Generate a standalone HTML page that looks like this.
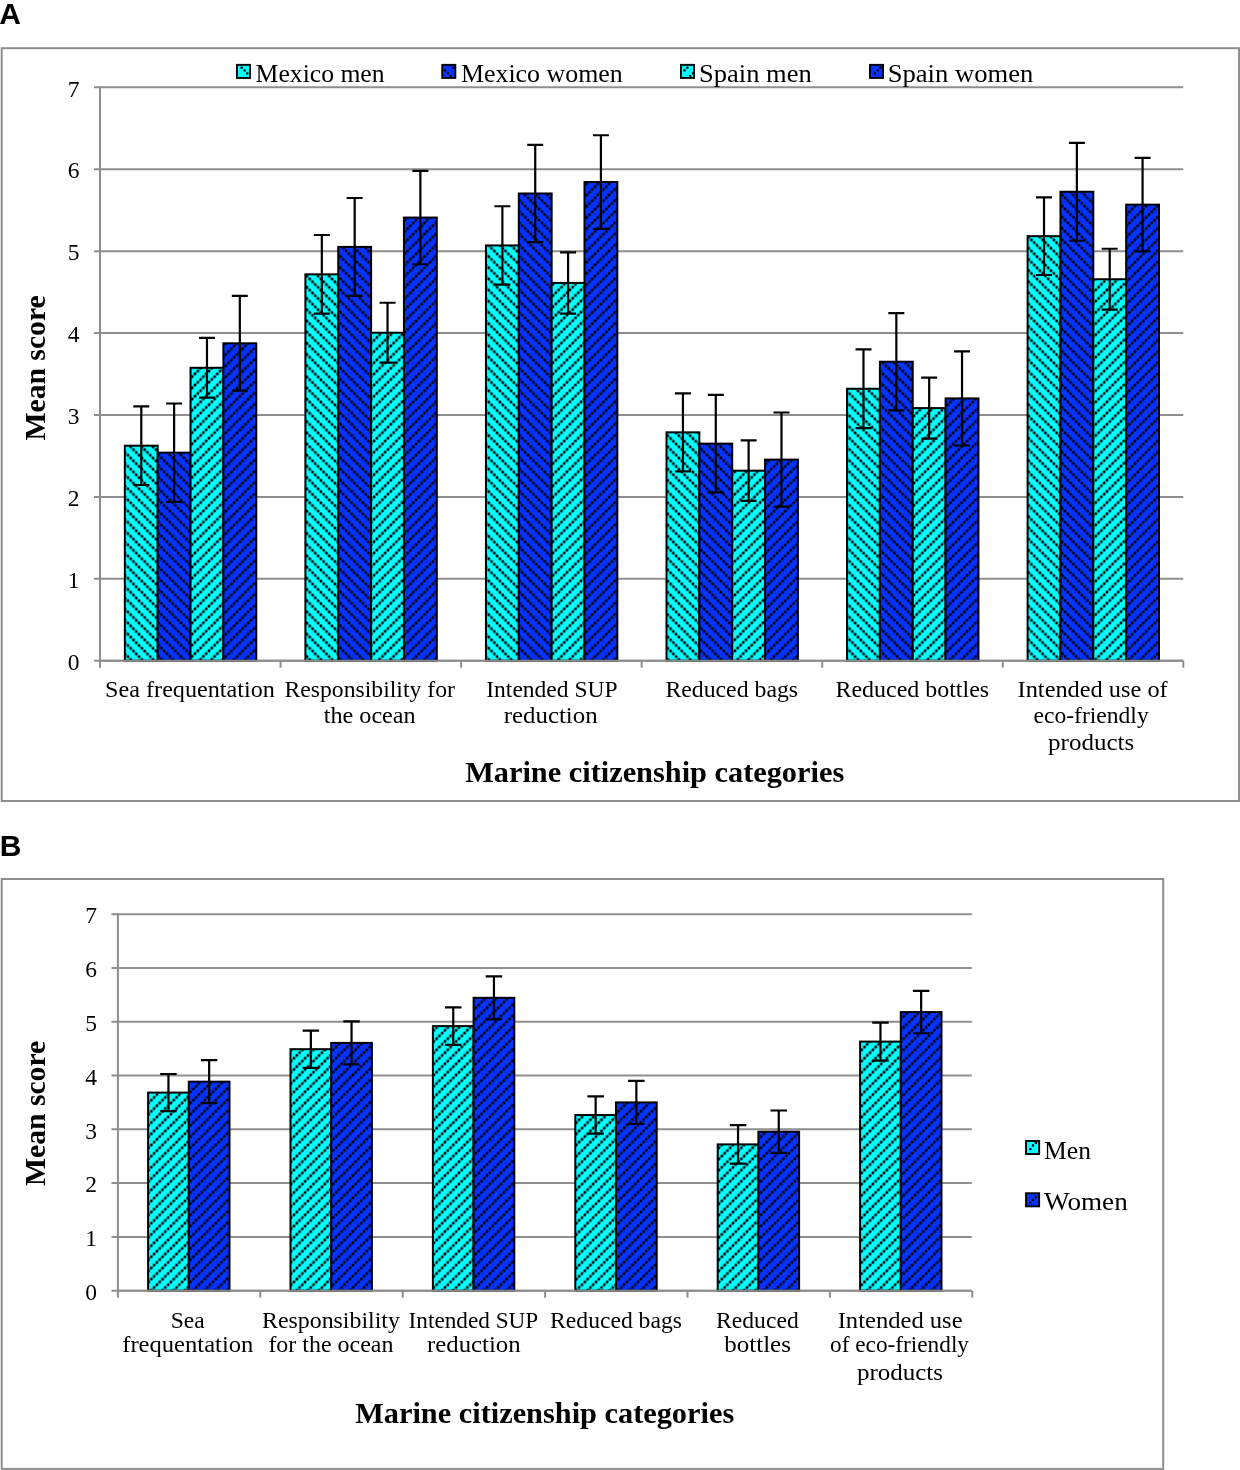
<!DOCTYPE html>
<html><head><meta charset="utf-8"><style>
html,body{margin:0;padding:0;background:#fff;width:1240px;height:1470px;overflow:hidden}
svg{display:block;will-change:transform}
text{font-family:"Liberation Serif",serif;fill:#000}
</style></head><body>
<svg width="1240" height="1470" viewBox="0 0 1240 1470">
<defs>
<pattern id="pMM" patternUnits="userSpaceOnUse" x="1.970" y="-6.330" width="11.190" height="11.190"><path d="M-2 -2L13.190 13.190M-2 9.190L2 13.190M9.190 -2L13.190 2" stroke="#000" stroke-width="1.2" stroke-opacity="0.18"/><g fill="#000"><rect x="1.472" y="1.472" width="2.65" height="2.65" rx="0.8"/><rect x="4.270" y="4.270" width="2.65" height="2.65" rx="0.8"/><rect x="7.067" y="7.067" width="2.65" height="2.65" rx="0.8"/><rect x="-1.325" y="-1.325" width="2.65" height="2.65" rx="0.8"/><rect x="9.865" y="-1.325" width="2.65" height="2.65" rx="0.8"/><rect x="-1.325" y="9.865" width="2.65" height="2.65" rx="0.8"/><rect x="9.865" y="9.865" width="2.65" height="2.65" rx="0.8"/></g></pattern>
<pattern id="pMW" patternUnits="userSpaceOnUse" x="1.970" y="-3.680" width="11.190" height="11.190"><path d="M-2 -2L13.190 13.190M-2 9.190L2 13.190M9.190 -2L13.190 2" stroke="#000" stroke-width="1.2" stroke-opacity="0.18"/><g fill="#000"><rect x="1.472" y="1.472" width="2.65" height="2.65" rx="0.8"/><rect x="4.270" y="4.270" width="2.65" height="2.65" rx="0.8"/><rect x="7.067" y="7.067" width="2.65" height="2.65" rx="0.8"/><rect x="-1.325" y="-1.325" width="2.65" height="2.65" rx="0.8"/><rect x="9.865" y="-1.325" width="2.65" height="2.65" rx="0.8"/><rect x="-1.325" y="9.865" width="2.65" height="2.65" rx="0.8"/><rect x="9.865" y="9.865" width="2.65" height="2.65" rx="0.8"/></g></pattern>
<pattern id="pSM" patternUnits="userSpaceOnUse" x="1.970" y="-3.800" width="11.190" height="11.190"><path d="M-2 13.190L13.190 -2M-2 2L2 -2M9.190 13.190L13.190 9.190" stroke="#000" stroke-width="1.2" stroke-opacity="0.18"/><g fill="#000"><rect x="1.472" y="7.067" width="2.65" height="2.65" rx="0.8"/><rect x="4.270" y="4.270" width="2.65" height="2.65" rx="0.8"/><rect x="7.067" y="1.472" width="2.65" height="2.65" rx="0.8"/><rect x="-1.325" y="-1.325" width="2.65" height="2.65" rx="0.8"/><rect x="9.865" y="-1.325" width="2.65" height="2.65" rx="0.8"/><rect x="-1.325" y="9.865" width="2.65" height="2.65" rx="0.8"/><rect x="9.865" y="9.865" width="2.65" height="2.65" rx="0.8"/></g></pattern>
<pattern id="pSW" patternUnits="userSpaceOnUse" x="2.000" y="-3.590" width="11.190" height="11.190"><path d="M-2 13.190L13.190 -2M-2 2L2 -2M9.190 13.190L13.190 9.190" stroke="#000" stroke-width="1.2" stroke-opacity="0.18"/><g fill="#000"><rect x="1.472" y="7.067" width="2.65" height="2.65" rx="0.8"/><rect x="4.270" y="4.270" width="2.65" height="2.65" rx="0.8"/><rect x="7.067" y="1.472" width="2.65" height="2.65" rx="0.8"/><rect x="-1.325" y="-1.325" width="2.65" height="2.65" rx="0.8"/><rect x="9.865" y="-1.325" width="2.65" height="2.65" rx="0.8"/><rect x="-1.325" y="9.865" width="2.65" height="2.65" rx="0.8"/><rect x="9.865" y="9.865" width="2.65" height="2.65" rx="0.8"/></g></pattern>
<pattern id="pBM" patternUnits="userSpaceOnUse" x="0.330" y="-1.626" width="11.186" height="11.186"><path d="M-2 13.186L13.186 -2M-2 2L2 -2M9.186 13.186L13.186 9.186" stroke="#000" stroke-width="1.2" stroke-opacity="0.18"/><g fill="#000"><rect x="1.472" y="7.064" width="2.65" height="2.65" rx="0.8"/><rect x="4.268" y="4.268" width="2.65" height="2.65" rx="0.8"/><rect x="7.064" y="1.472" width="2.65" height="2.65" rx="0.8"/><rect x="-1.325" y="-1.325" width="2.65" height="2.65" rx="0.8"/><rect x="9.861" y="-1.325" width="2.65" height="2.65" rx="0.8"/><rect x="-1.325" y="9.861" width="2.65" height="2.65" rx="0.8"/><rect x="9.861" y="9.861" width="2.65" height="2.65" rx="0.8"/></g></pattern>
<pattern id="pBW" patternUnits="userSpaceOnUse" x="0.500" y="-4.516" width="11.186" height="11.186"><path d="M-2 13.186L13.186 -2M-2 2L2 -2M9.186 13.186L13.186 9.186" stroke="#000" stroke-width="1.2" stroke-opacity="0.18"/><g fill="#000"><rect x="1.472" y="7.064" width="2.65" height="2.65" rx="0.8"/><rect x="4.268" y="4.268" width="2.65" height="2.65" rx="0.8"/><rect x="7.064" y="1.472" width="2.65" height="2.65" rx="0.8"/><rect x="-1.325" y="-1.325" width="2.65" height="2.65" rx="0.8"/><rect x="9.861" y="-1.325" width="2.65" height="2.65" rx="0.8"/><rect x="-1.325" y="9.861" width="2.65" height="2.65" rx="0.8"/><rect x="9.861" y="9.861" width="2.65" height="2.65" rx="0.8"/></g></pattern>
</defs>
<rect width="1240" height="1470" fill="#fff"/>
<g>

<text x="-0.8" y="23.9" font-size="30" font-weight="bold" style="font-family:'Liberation Sans',sans-serif">A</text>
<text x="-0.3" y="855.8" font-size="30" font-weight="bold" style="font-family:'Liberation Sans',sans-serif">B</text>
<rect x="1.7" y="48.2" width="1237.3" height="752.8" fill="none" stroke="#8e8e8e" stroke-width="2"/>
<rect x="1.7" y="879" width="1161.5" height="589.9" fill="none" stroke="#8e8e8e" stroke-width="2"/>
<line x1="94" y1="660.7" x2="1183.2" y2="660.7" stroke="#8e8e8e" stroke-width="2"/>
<line x1="94" y1="578.79" x2="1183.2" y2="578.79" stroke="#8e8e8e" stroke-width="2"/>
<line x1="94" y1="496.88" x2="1183.2" y2="496.88" stroke="#8e8e8e" stroke-width="2"/>
<line x1="94" y1="414.97" x2="1183.2" y2="414.97" stroke="#8e8e8e" stroke-width="2"/>
<line x1="94" y1="333.06" x2="1183.2" y2="333.06" stroke="#8e8e8e" stroke-width="2"/>
<line x1="94" y1="251.15" x2="1183.2" y2="251.15" stroke="#8e8e8e" stroke-width="2"/>
<line x1="94" y1="169.24" x2="1183.2" y2="169.24" stroke="#8e8e8e" stroke-width="2"/>
<line x1="94" y1="87.33" x2="1183.2" y2="87.33" stroke="#8e8e8e" stroke-width="2"/>
<rect x="124.85" y="445.69" width="32.85" height="215.01" fill="#00FFFF"/>
<rect x="124.85" y="445.69" width="32.85" height="215.01" fill="url(#pMM)"/>
<rect x="124.85" y="445.69" width="32.85" height="215.01" fill="none" stroke="#000" stroke-width="2"/>
<rect x="157.7" y="452.65" width="32.85" height="208.05" fill="#0433FF"/>
<rect x="157.7" y="452.65" width="32.85" height="208.05" fill="url(#pMW)"/>
<rect x="157.7" y="452.65" width="32.85" height="208.05" fill="none" stroke="#000" stroke-width="2"/>
<rect x="190.55" y="367.79" width="32.85" height="292.91" fill="#00FFFF"/>
<rect x="190.55" y="367.79" width="32.85" height="292.91" fill="url(#pSM)"/>
<rect x="190.55" y="367.79" width="32.85" height="292.91" fill="none" stroke="#000" stroke-width="2"/>
<rect x="223.4" y="343.3" width="32.85" height="317.4" fill="#0433FF"/>
<rect x="223.4" y="343.3" width="32.85" height="317.4" fill="url(#pSW)"/>
<rect x="223.4" y="343.3" width="32.85" height="317.4" fill="none" stroke="#000" stroke-width="2"/>
<rect x="305.4" y="274.33" width="32.85" height="386.37" fill="#00FFFF"/>
<rect x="305.4" y="274.33" width="32.85" height="386.37" fill="url(#pMM)"/>
<rect x="305.4" y="274.33" width="32.85" height="386.37" fill="none" stroke="#000" stroke-width="2"/>
<rect x="338.25" y="246.89" width="32.85" height="413.81" fill="#0433FF"/>
<rect x="338.25" y="246.89" width="32.85" height="413.81" fill="url(#pMW)"/>
<rect x="338.25" y="246.89" width="32.85" height="413.81" fill="none" stroke="#000" stroke-width="2"/>
<rect x="371.1" y="332.73" width="32.85" height="327.97" fill="#00FFFF"/>
<rect x="371.1" y="332.73" width="32.85" height="327.97" fill="url(#pSM)"/>
<rect x="371.1" y="332.73" width="32.85" height="327.97" fill="none" stroke="#000" stroke-width="2"/>
<rect x="403.95" y="217.57" width="32.85" height="443.13" fill="#0433FF"/>
<rect x="403.95" y="217.57" width="32.85" height="443.13" fill="url(#pSW)"/>
<rect x="403.95" y="217.57" width="32.85" height="443.13" fill="none" stroke="#000" stroke-width="2"/>
<rect x="485.95" y="245.42" width="32.85" height="415.28" fill="#00FFFF"/>
<rect x="485.95" y="245.42" width="32.85" height="415.28" fill="url(#pMM)"/>
<rect x="485.95" y="245.42" width="32.85" height="415.28" fill="none" stroke="#000" stroke-width="2"/>
<rect x="518.8" y="193.49" width="32.85" height="467.21" fill="#0433FF"/>
<rect x="518.8" y="193.49" width="32.85" height="467.21" fill="url(#pMW)"/>
<rect x="518.8" y="193.49" width="32.85" height="467.21" fill="none" stroke="#000" stroke-width="2"/>
<rect x="551.65" y="282.93" width="32.85" height="377.77" fill="#00FFFF"/>
<rect x="551.65" y="282.93" width="32.85" height="377.77" fill="url(#pSM)"/>
<rect x="551.65" y="282.93" width="32.85" height="377.77" fill="none" stroke="#000" stroke-width="2"/>
<rect x="584.5" y="182.02" width="32.85" height="478.68" fill="#0433FF"/>
<rect x="584.5" y="182.02" width="32.85" height="478.68" fill="url(#pSW)"/>
<rect x="584.5" y="182.02" width="32.85" height="478.68" fill="none" stroke="#000" stroke-width="2"/>
<rect x="666.5" y="432.33" width="32.85" height="228.37" fill="#00FFFF"/>
<rect x="666.5" y="432.33" width="32.85" height="228.37" fill="url(#pMM)"/>
<rect x="666.5" y="432.33" width="32.85" height="228.37" fill="none" stroke="#000" stroke-width="2"/>
<rect x="699.35" y="443.64" width="32.85" height="217.06" fill="#0433FF"/>
<rect x="699.35" y="443.64" width="32.85" height="217.06" fill="url(#pMW)"/>
<rect x="699.35" y="443.64" width="32.85" height="217.06" fill="none" stroke="#000" stroke-width="2"/>
<rect x="732.2" y="470.67" width="32.85" height="190.03" fill="#00FFFF"/>
<rect x="732.2" y="470.67" width="32.85" height="190.03" fill="url(#pSM)"/>
<rect x="732.2" y="470.67" width="32.85" height="190.03" fill="none" stroke="#000" stroke-width="2"/>
<rect x="765.05" y="459.61" width="32.85" height="201.09" fill="#0433FF"/>
<rect x="765.05" y="459.61" width="32.85" height="201.09" fill="url(#pSW)"/>
<rect x="765.05" y="459.61" width="32.85" height="201.09" fill="none" stroke="#000" stroke-width="2"/>
<rect x="847.05" y="388.76" width="32.85" height="271.94" fill="#00FFFF"/>
<rect x="847.05" y="388.76" width="32.85" height="271.94" fill="url(#pMM)"/>
<rect x="847.05" y="388.76" width="32.85" height="271.94" fill="none" stroke="#000" stroke-width="2"/>
<rect x="879.9" y="361.73" width="32.85" height="298.97" fill="#0433FF"/>
<rect x="879.9" y="361.73" width="32.85" height="298.97" fill="url(#pMW)"/>
<rect x="879.9" y="361.73" width="32.85" height="298.97" fill="none" stroke="#000" stroke-width="2"/>
<rect x="912.75" y="408.09" width="32.85" height="252.61" fill="#00FFFF"/>
<rect x="912.75" y="408.09" width="32.85" height="252.61" fill="url(#pSM)"/>
<rect x="912.75" y="408.09" width="32.85" height="252.61" fill="none" stroke="#000" stroke-width="2"/>
<rect x="945.6" y="398.42" width="32.85" height="262.28" fill="#0433FF"/>
<rect x="945.6" y="398.42" width="32.85" height="262.28" fill="url(#pSW)"/>
<rect x="945.6" y="398.42" width="32.85" height="262.28" fill="none" stroke="#000" stroke-width="2"/>
<rect x="1027.6" y="236.16" width="32.85" height="424.54" fill="#00FFFF"/>
<rect x="1027.6" y="236.16" width="32.85" height="424.54" fill="url(#pMM)"/>
<rect x="1027.6" y="236.16" width="32.85" height="424.54" fill="none" stroke="#000" stroke-width="2"/>
<rect x="1060.45" y="191.77" width="32.85" height="468.93" fill="#0433FF"/>
<rect x="1060.45" y="191.77" width="32.85" height="468.93" fill="url(#pMW)"/>
<rect x="1060.45" y="191.77" width="32.85" height="468.93" fill="none" stroke="#000" stroke-width="2"/>
<rect x="1093.3" y="279.25" width="32.85" height="381.45" fill="#00FFFF"/>
<rect x="1093.3" y="279.25" width="32.85" height="381.45" fill="url(#pSM)"/>
<rect x="1093.3" y="279.25" width="32.85" height="381.45" fill="none" stroke="#000" stroke-width="2"/>
<rect x="1126.15" y="204.63" width="32.85" height="456.07" fill="#0433FF"/>
<rect x="1126.15" y="204.63" width="32.85" height="456.07" fill="url(#pSW)"/>
<rect x="1126.15" y="204.63" width="32.85" height="456.07" fill="none" stroke="#000" stroke-width="2"/>
<line x1="100" y1="86.33" x2="100" y2="667.7" stroke="#8e8e8e" stroke-width="2"/>
<line x1="100" y1="660.7" x2="1183.2" y2="660.7" stroke="#8e8e8e" stroke-width="2"/>
<line x1="280.55" y1="660.7" x2="280.55" y2="667.7" stroke="#8e8e8e" stroke-width="2"/>
<line x1="461.1" y1="660.7" x2="461.1" y2="667.7" stroke="#8e8e8e" stroke-width="2"/>
<line x1="641.65" y1="660.7" x2="641.65" y2="667.7" stroke="#8e8e8e" stroke-width="2"/>
<line x1="822.2" y1="660.7" x2="822.2" y2="667.7" stroke="#8e8e8e" stroke-width="2"/>
<line x1="1002.75" y1="660.7" x2="1002.75" y2="667.7" stroke="#8e8e8e" stroke-width="2"/>
<line x1="1183.3" y1="660.7" x2="1183.3" y2="667.7" stroke="#8e8e8e" stroke-width="2"/>
<path d="M141.28 406.37V485M133.28 406.37H149.28M133.28 485H149.28" stroke="#000" stroke-width="2.2" fill="none"/>
<path d="M174.12 403.5V501.79M166.12 403.5H182.12M166.12 501.79H182.12" stroke="#000" stroke-width="2.2" fill="none"/>
<path d="M206.98 337.89V397.69M198.98 337.89H214.98M198.98 397.69H214.98" stroke="#000" stroke-width="2.2" fill="none"/>
<path d="M239.83 295.95V390.64M231.83 295.95H247.83M231.83 390.64H247.83" stroke="#000" stroke-width="2.2" fill="none"/>
<path d="M321.83 235.01V313.65M313.83 235.01H329.83M313.83 313.65H329.83" stroke="#000" stroke-width="2.2" fill="none"/>
<path d="M354.68 197.99V295.79M346.68 197.99H362.68M346.68 295.79H362.68" stroke="#000" stroke-width="2.2" fill="none"/>
<path d="M387.53 302.75V362.71M379.53 302.75H395.53M379.53 362.71H395.53" stroke="#000" stroke-width="2.2" fill="none"/>
<path d="M420.38 170.88V264.26M412.38 170.88H428.38M412.38 264.26H428.38" stroke="#000" stroke-width="2.2" fill="none"/>
<path d="M502.38 206.26V284.57M494.38 206.26H510.38M494.38 284.57H510.38" stroke="#000" stroke-width="2.2" fill="none"/>
<path d="M535.23 144.91V242.06M527.23 144.91H543.23M527.23 242.06H543.23" stroke="#000" stroke-width="2.2" fill="none"/>
<path d="M568.08 252.3V313.57M560.08 252.3H576.08M560.08 313.57H576.08" stroke="#000" stroke-width="2.2" fill="none"/>
<path d="M600.92 135.25V228.79M592.92 135.25H608.92M592.92 228.79H608.92" stroke="#000" stroke-width="2.2" fill="none"/>
<path d="M682.93 393.35V471.32M674.93 393.35H690.93M674.93 471.32H690.93" stroke="#000" stroke-width="2.2" fill="none"/>
<path d="M715.78 394.9V492.37M707.78 394.9H723.78M707.78 492.37H723.78" stroke="#000" stroke-width="2.2" fill="none"/>
<path d="M748.63 440.44V500.89M740.63 440.44H756.63M740.63 500.89H756.63" stroke="#000" stroke-width="2.2" fill="none"/>
<path d="M781.48 412.51V506.71M773.48 412.51H789.48M773.48 506.71H789.48" stroke="#000" stroke-width="2.2" fill="none"/>
<path d="M863.48 349.44V428.08M855.48 349.44H871.48M855.48 428.08H871.48" stroke="#000" stroke-width="2.2" fill="none"/>
<path d="M896.33 313.07V410.38M888.33 313.07H904.33M888.33 410.38H904.33" stroke="#000" stroke-width="2.2" fill="none"/>
<path d="M929.18 377.62V438.56M921.18 377.62H937.18M921.18 438.56H937.18" stroke="#000" stroke-width="2.2" fill="none"/>
<path d="M962.03 351.33V445.52M954.03 351.33H970.03M954.03 445.52H970.03" stroke="#000" stroke-width="2.2" fill="none"/>
<path d="M1044.02 197.34V274.99M1036.02 197.34H1052.02M1036.02 274.99H1052.02" stroke="#000" stroke-width="2.2" fill="none"/>
<path d="M1076.87 142.78V240.75M1068.87 142.78H1084.87M1068.87 240.75H1084.87" stroke="#000" stroke-width="2.2" fill="none"/>
<path d="M1109.72 248.77V309.72M1101.72 248.77H1117.72M1101.72 309.72H1117.72" stroke="#000" stroke-width="2.2" fill="none"/>
<path d="M1142.57 157.94V251.31M1134.57 157.94H1150.57M1134.57 251.31H1150.57" stroke="#000" stroke-width="2.2" fill="none"/>
<line x1="111.5" y1="1290.7" x2="971.8" y2="1290.7" stroke="#8e8e8e" stroke-width="2"/>
<line x1="111.5" y1="1236.91" x2="971.8" y2="1236.91" stroke="#8e8e8e" stroke-width="2"/>
<line x1="111.5" y1="1183.12" x2="971.8" y2="1183.12" stroke="#8e8e8e" stroke-width="2"/>
<line x1="111.5" y1="1129.33" x2="971.8" y2="1129.33" stroke="#8e8e8e" stroke-width="2"/>
<line x1="111.5" y1="1075.54" x2="971.8" y2="1075.54" stroke="#8e8e8e" stroke-width="2"/>
<line x1="111.5" y1="1021.75" x2="971.8" y2="1021.75" stroke="#8e8e8e" stroke-width="2"/>
<line x1="111.5" y1="967.96" x2="971.8" y2="967.96" stroke="#8e8e8e" stroke-width="2"/>
<line x1="111.5" y1="914.17" x2="971.8" y2="914.17" stroke="#8e8e8e" stroke-width="2"/>
<rect x="148.1" y="1092.59" width="40.7" height="198.11" fill="#00FFFF"/>
<rect x="148.1" y="1092.59" width="40.7" height="198.11" fill="url(#pBM)"/>
<rect x="148.1" y="1092.59" width="40.7" height="198.11" fill="none" stroke="#000" stroke-width="2"/>
<rect x="188.8" y="1081.67" width="40.7" height="209.03" fill="#0433FF"/>
<rect x="188.8" y="1081.67" width="40.7" height="209.03" fill="url(#pBW)"/>
<rect x="188.8" y="1081.67" width="40.7" height="209.03" fill="none" stroke="#000" stroke-width="2"/>
<rect x="290.5" y="1049.18" width="40.7" height="241.52" fill="#00FFFF"/>
<rect x="290.5" y="1049.18" width="40.7" height="241.52" fill="url(#pBM)"/>
<rect x="290.5" y="1049.18" width="40.7" height="241.52" fill="none" stroke="#000" stroke-width="2"/>
<rect x="331.2" y="1042.89" width="40.7" height="247.81" fill="#0433FF"/>
<rect x="331.2" y="1042.89" width="40.7" height="247.81" fill="url(#pBW)"/>
<rect x="331.2" y="1042.89" width="40.7" height="247.81" fill="none" stroke="#000" stroke-width="2"/>
<rect x="432.9" y="1026.11" width="40.7" height="264.59" fill="#00FFFF"/>
<rect x="432.9" y="1026.11" width="40.7" height="264.59" fill="url(#pBM)"/>
<rect x="432.9" y="1026.11" width="40.7" height="264.59" fill="none" stroke="#000" stroke-width="2"/>
<rect x="473.6" y="997.81" width="40.7" height="292.89" fill="#0433FF"/>
<rect x="473.6" y="997.81" width="40.7" height="292.89" fill="url(#pBW)"/>
<rect x="473.6" y="997.81" width="40.7" height="292.89" fill="none" stroke="#000" stroke-width="2"/>
<rect x="575.3" y="1115.02" width="40.7" height="175.68" fill="#00FFFF"/>
<rect x="575.3" y="1115.02" width="40.7" height="175.68" fill="url(#pBM)"/>
<rect x="575.3" y="1115.02" width="40.7" height="175.68" fill="none" stroke="#000" stroke-width="2"/>
<rect x="616" y="1102.43" width="40.7" height="188.27" fill="#0433FF"/>
<rect x="616" y="1102.43" width="40.7" height="188.27" fill="url(#pBW)"/>
<rect x="616" y="1102.43" width="40.7" height="188.27" fill="none" stroke="#000" stroke-width="2"/>
<rect x="717.7" y="1144.39" width="40.7" height="146.31" fill="#00FFFF"/>
<rect x="717.7" y="1144.39" width="40.7" height="146.31" fill="url(#pBM)"/>
<rect x="717.7" y="1144.39" width="40.7" height="146.31" fill="none" stroke="#000" stroke-width="2"/>
<rect x="758.4" y="1131.7" width="40.7" height="159" fill="#0433FF"/>
<rect x="758.4" y="1131.7" width="40.7" height="159" fill="url(#pBW)"/>
<rect x="758.4" y="1131.7" width="40.7" height="159" fill="none" stroke="#000" stroke-width="2"/>
<rect x="860.1" y="1041.6" width="40.7" height="249.1" fill="#00FFFF"/>
<rect x="860.1" y="1041.6" width="40.7" height="249.1" fill="url(#pBM)"/>
<rect x="860.1" y="1041.6" width="40.7" height="249.1" fill="none" stroke="#000" stroke-width="2"/>
<rect x="900.8" y="1012.07" width="40.7" height="278.63" fill="#0433FF"/>
<rect x="900.8" y="1012.07" width="40.7" height="278.63" fill="url(#pBW)"/>
<rect x="900.8" y="1012.07" width="40.7" height="278.63" fill="none" stroke="#000" stroke-width="2"/>
<line x1="117.9" y1="913.17" x2="117.9" y2="1297.7" stroke="#8e8e8e" stroke-width="2"/>
<line x1="117.9" y1="1290.7" x2="971.8" y2="1290.7" stroke="#8e8e8e" stroke-width="2"/>
<line x1="260.3" y1="1290.7" x2="260.3" y2="1297.7" stroke="#8e8e8e" stroke-width="2"/>
<line x1="402.7" y1="1290.7" x2="402.7" y2="1297.7" stroke="#8e8e8e" stroke-width="2"/>
<line x1="545.1" y1="1290.7" x2="545.1" y2="1297.7" stroke="#8e8e8e" stroke-width="2"/>
<line x1="687.5" y1="1290.7" x2="687.5" y2="1297.7" stroke="#8e8e8e" stroke-width="2"/>
<line x1="829.9" y1="1290.7" x2="829.9" y2="1297.7" stroke="#8e8e8e" stroke-width="2"/>
<line x1="972.3" y1="1290.7" x2="972.3" y2="1297.7" stroke="#8e8e8e" stroke-width="2"/>
<path d="M168.45 1073.98V1111.2M160.2 1073.98H176.7M160.2 1111.2H176.7" stroke="#000" stroke-width="2.2" fill="none"/>
<path d="M209.15 1060.16V1103.19M200.9 1060.16H217.4M200.9 1103.19H217.4" stroke="#000" stroke-width="2.2" fill="none"/>
<path d="M310.85 1030.57V1067.79M302.6 1030.57H319.1M302.6 1067.79H319.1" stroke="#000" stroke-width="2.2" fill="none"/>
<path d="M351.55 1021.37V1064.41M343.3 1021.37H359.8M343.3 1064.41H359.8" stroke="#000" stroke-width="2.2" fill="none"/>
<path d="M453.25 1007.28V1044.93M445 1007.28H461.5M445 1044.93H461.5" stroke="#000" stroke-width="2.2" fill="none"/>
<path d="M493.95 976.3V1019.33M485.7 976.3H502.2M485.7 1019.33H502.2" stroke="#000" stroke-width="2.2" fill="none"/>
<path d="M595.65 1096.41V1133.63M587.4 1096.41H603.9M587.4 1133.63H603.9" stroke="#000" stroke-width="2.2" fill="none"/>
<path d="M636.35 1080.92V1123.95M628.1 1080.92H644.6M628.1 1123.95H644.6" stroke="#000" stroke-width="2.2" fill="none"/>
<path d="M738.05 1125.19V1163.59M729.8 1125.19H746.3M729.8 1163.59H746.3" stroke="#000" stroke-width="2.2" fill="none"/>
<path d="M778.75 1110.5V1152.89M770.5 1110.5H787M770.5 1152.89H787" stroke="#000" stroke-width="2.2" fill="none"/>
<path d="M880.45 1022.61V1060.59M872.2 1022.61H888.7M872.2 1060.59H888.7" stroke="#000" stroke-width="2.2" fill="none"/>
<path d="M921.15 990.87V1033.26M912.9 990.87H929.4M912.9 1033.26H929.4" stroke="#000" stroke-width="2.2" fill="none"/>
<rect x="236.95" y="64.85" width="13.1" height="13.1" fill="#00FFFF" stroke="#000" stroke-width="1.9"/>
<rect x="240.55" y="66.55" width="2.3" height="2.3" rx="0.6"/>
<rect x="243.45" y="69.3" width="2.3" height="2.3" rx="0.6"/>
<rect x="246.15" y="72.2" width="2.3" height="2.3" rx="0.6"/>
<text x="255.6" y="82" font-size="26" font-weight="normal" textLength="129" lengthAdjust="spacingAndGlyphs" >Mexico men</text>
<rect x="442.25" y="64.85" width="13.1" height="13.1" fill="#0433FF" stroke="#000" stroke-width="1.9"/>
<rect x="443.95" y="69.3" width="2.3" height="2.3" rx="0.6"/>
<rect x="446.65" y="72.05" width="2.3" height="2.3" rx="0.6"/>
<rect x="452.3" y="66.55" width="2.3" height="2.3" rx="0.6"/>
<rect x="449.45" y="75.05" width="2.3" height="2.3" rx="0.6"/>
<text x="461" y="82" font-size="26" font-weight="normal" textLength="161.7" lengthAdjust="spacingAndGlyphs" >Mexico women</text>
<rect x="680.95" y="64.85" width="13.1" height="13.1" fill="#00FFFF" stroke="#000" stroke-width="1.9"/>
<rect x="686.25" y="66.55" width="2.3" height="2.3" rx="0.6"/>
<rect x="683.35" y="69.3" width="2.3" height="2.3" rx="0.6"/>
<rect x="691.85" y="72.25" width="2.3" height="2.3" rx="0.6"/>
<rect x="689.05" y="75.05" width="2.3" height="2.3" rx="0.6"/>
<text x="699" y="82" font-size="26" font-weight="normal" textLength="112.7" lengthAdjust="spacingAndGlyphs" >Spain men</text>
<rect x="869.95" y="64.85" width="13.1" height="13.1" fill="#0433FF" stroke="#000" stroke-width="1.9"/>
<rect x="879.35" y="66.55" width="2.3" height="2.3" rx="0.6"/>
<rect x="876.65" y="69.3" width="2.3" height="2.3" rx="0.6"/>
<rect x="873.75" y="72.2" width="2.3" height="2.3" rx="0.6"/>
<text x="887.7" y="82" font-size="26" font-weight="normal" textLength="145.6" lengthAdjust="spacingAndGlyphs" >Spain women</text>
<rect x="1026.05" y="1140.95" width="13.1" height="13.1" fill="#00FFFF" stroke="#000" stroke-width="1.9"/>
<rect x="1031.85" y="1144.35" width="2.3" height="2.3" rx="0.6"/>
<rect x="1029.2" y="1147.95" width="2.3" height="2.3" rx="0.6"/>
<rect x="1034.75" y="1141.75" width="2.3" height="2.3" rx="0.6"/>
<text x="1044.1" y="1158.5" font-size="26" font-weight="normal" textLength="46.9" lengthAdjust="spacingAndGlyphs" >Men</text>
<rect x="1026.05" y="1193.25" width="13.1" height="13.1" fill="#0433FF" stroke="#000" stroke-width="1.9"/>
<rect x="1034.65" y="1195.85" width="2.3" height="2.3" rx="0.6"/>
<rect x="1031.85" y="1198.65" width="2.3" height="2.3" rx="0.6"/>
<rect x="1029.2" y="1201.55" width="2.3" height="2.3" rx="0.6"/>
<text x="1044.1" y="1209.7" font-size="26" font-weight="normal" textLength="83.6" lengthAdjust="spacingAndGlyphs" >Women</text>
<text x="79.6" y="669.9" font-size="23.5" text-anchor="end">0</text>
<text x="79.6" y="587.99" font-size="23.5" text-anchor="end">1</text>
<text x="79.6" y="506.08" font-size="23.5" text-anchor="end">2</text>
<text x="79.6" y="424.17" font-size="23.5" text-anchor="end">3</text>
<text x="79.6" y="342.26" font-size="23.5" text-anchor="end">4</text>
<text x="79.6" y="260.35" font-size="23.5" text-anchor="end">5</text>
<text x="79.6" y="178.44" font-size="23.5" text-anchor="end">6</text>
<text x="79.6" y="96.53" font-size="23.5" text-anchor="end">7</text>
<text x="97" y="1299.9" font-size="23.5" text-anchor="end">0</text>
<text x="97" y="1246.11" font-size="23.5" text-anchor="end">1</text>
<text x="97" y="1192.32" font-size="23.5" text-anchor="end">2</text>
<text x="97" y="1138.53" font-size="23.5" text-anchor="end">3</text>
<text x="97" y="1084.74" font-size="23.5" text-anchor="end">4</text>
<text x="97" y="1030.95" font-size="23.5" text-anchor="end">5</text>
<text x="97" y="977.16" font-size="23.5" text-anchor="end">6</text>
<text x="97" y="923.37" font-size="23.5" text-anchor="end">7</text>
<text x="105.1" y="697" font-size="23.4" font-weight="normal" textLength="169.8" lengthAdjust="spacingAndGlyphs" >Sea frequentation</text>
<text x="284.5" y="697" font-size="23.4" font-weight="normal" textLength="170.4" lengthAdjust="spacingAndGlyphs" >Responsibility for</text>
<text x="323.7" y="722.7" font-size="23.4" font-weight="normal" textLength="92" lengthAdjust="spacingAndGlyphs" >the ocean</text>
<text x="486.3" y="697" font-size="23.4" font-weight="normal" textLength="131.2" lengthAdjust="spacingAndGlyphs" >Intended SUP</text>
<text x="503.7" y="722.7" font-size="23.4" font-weight="normal" textLength="94" lengthAdjust="spacingAndGlyphs" >reduction</text>
<text x="665.4" y="697" font-size="23.4" font-weight="normal" textLength="132.7" lengthAdjust="spacingAndGlyphs" >Reduced bags</text>
<text x="835.5" y="697" font-size="23.4" font-weight="normal" textLength="153.6" lengthAdjust="spacingAndGlyphs" >Reduced bottles</text>
<text x="1017.6" y="697" font-size="23.4" font-weight="normal" textLength="150.1" lengthAdjust="spacingAndGlyphs" >Intended use of</text>
<text x="1033.6" y="722.7" font-size="23.4" font-weight="normal" textLength="115.1" lengthAdjust="spacingAndGlyphs" >eco-friendly</text>
<text x="1048.1" y="749.8" font-size="23.4" font-weight="normal" textLength="86.2" lengthAdjust="spacingAndGlyphs" >products</text>
<text x="465.2" y="782.1" font-size="29" font-weight="bold" textLength="379" lengthAdjust="spacingAndGlyphs" >Marine citizenship categories</text>
<text x="170.7" y="1327.5" font-size="23.4" font-weight="normal" textLength="34" lengthAdjust="spacingAndGlyphs" >Sea</text>
<text x="122.2" y="1352.1" font-size="23.4" font-weight="normal" textLength="131.2" lengthAdjust="spacingAndGlyphs" >frequentation</text>
<text x="262" y="1327.5" font-size="23.4" font-weight="normal" textLength="137.9" lengthAdjust="spacingAndGlyphs" >Responsibility</text>
<text x="268.4" y="1352.1" font-size="23.4" font-weight="normal" textLength="125.1" lengthAdjust="spacingAndGlyphs" >for the ocean</text>
<text x="408.6" y="1327.5" font-size="23.4" font-weight="normal" textLength="129.7" lengthAdjust="spacingAndGlyphs" >Intended SUP</text>
<text x="427" y="1352.1" font-size="23.4" font-weight="normal" textLength="93.6" lengthAdjust="spacingAndGlyphs" >reduction</text>
<text x="550.1" y="1327.5" font-size="23.4" font-weight="normal" textLength="131.8" lengthAdjust="spacingAndGlyphs" >Reduced bags</text>
<text x="716.1" y="1327.5" font-size="23.4" font-weight="normal" textLength="82.6" lengthAdjust="spacingAndGlyphs" >Reduced</text>
<text x="724.3" y="1352.1" font-size="23.4" font-weight="normal" textLength="66.6" lengthAdjust="spacingAndGlyphs" >bottles</text>
<text x="837.7" y="1327.5" font-size="23.4" font-weight="normal" textLength="124.9" lengthAdjust="spacingAndGlyphs" >Intended use</text>
<text x="830.1" y="1352.1" font-size="23.4" font-weight="normal" textLength="138.9" lengthAdjust="spacingAndGlyphs" >of eco-friendly</text>
<text x="856.9" y="1380.1" font-size="23.4" font-weight="normal" textLength="86.1" lengthAdjust="spacingAndGlyphs" >products</text>
<text x="355.2" y="1423" font-size="29" font-weight="bold" textLength="379" lengthAdjust="spacingAndGlyphs" >Marine citizenship categories</text>
<text x="44.9" y="440.5" font-size="29.5" font-weight="bold" textLength="145.2" lengthAdjust="spacingAndGlyphs" transform="rotate(-90 44.9 440.5)">Mean score</text>
<text x="45.1" y="1185.9" font-size="29.5" font-weight="bold" textLength="145.1" lengthAdjust="spacingAndGlyphs" transform="rotate(-90 45.1 1185.9)">Mean score</text>
</g></svg></body></html>
